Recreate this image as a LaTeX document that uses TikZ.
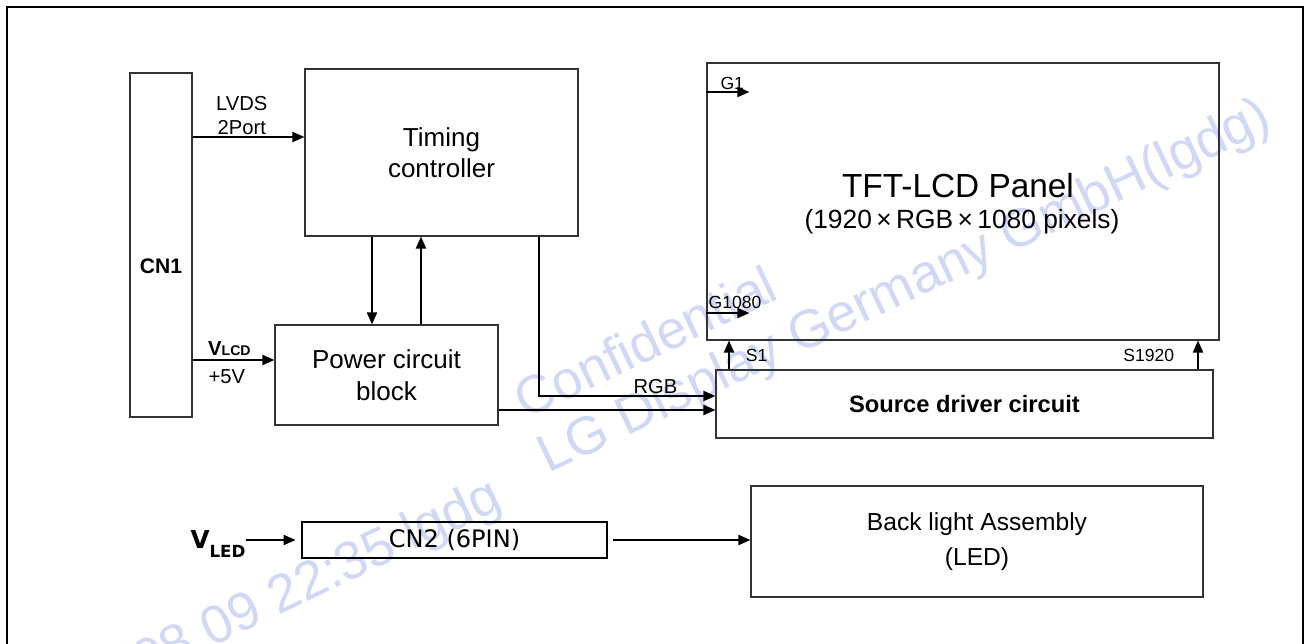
\documentclass[tikz,border=0pt]{standalone}
\usepackage{fontspec}
\setmainfont{Liberation Sans}
\newfontfamily\tahoma{DejaVu Sans}
\usepackage{xcolor}
\usepackage{tikz}
\usetikzlibrary{arrows.meta,calc,positioning}
\definecolor{wmblue}{RGB}{208,216,245}

\begin{document}
\begin{tikzpicture}[x=0.02cm,y=-0.02cm,
  blk/.style 2 args={draw=black!80,line width=0.6pt,minimum width=#1*0.02cm,minimum height=#2*0.02cm,inner sep=0pt,align=center},
  arr/.style={-{Triangle[length=2.4mm,width=2mm]},line width=1.1pt},
  lbl/.style={font=\fontsize{11.5}{13.7}\selectfont,inner sep=1pt,align=center},
  pin/.style={font=\fontsize{10}{12}\selectfont,inner sep=1pt},
  wm/.style={text=wmblue,font=\fontsize{30.5}{31}\selectfont,rotate=25.5,anchor=base west,inner sep=0pt}]
\useasboundingbox (0,0) rectangle (1308,644);
% watermark
\node[wm] (wmconf) at (525,420) {Confidential};
\node[wm] (wmlgd) at (548,474) {LG Display Germany GmbH(lgdg)};
\node[wm] (wmdate) at (90,705) {2008 09 22:35 lgdg};
% frame
\draw[line width=1.6pt] (7,644) -- (7,7) -- (1303,7) -- (1303,644);
% blocks
\node[blk={62}{344}] (cn1) at (161,245) {};
\node[font=\bfseries\fontsize{12}{14}\selectfont] (cn1lbl) at ($(cn1.center)+(0,21)$) {CN1};
\node[blk={273}{167},font=\fontsize{14.8}{17.6}\selectfont] (tcon) at (441.5,152.5) {Timing\\controller};
\node[blk={223}{100},font=\fontsize{14.8}{18}\selectfont] (pwr) at (386.5,375) {Power circuit\\block};
\node[blk={512}{277}] (panel) at (963,201.5) {};
\node[font=\fontsize{19}{22}\selectfont] (ptitle) at (958,186) {TFT-LCD Panel};
\node[font=\fontsize{15}{18}\selectfont] (psub) at (962,222) {(1920\,×\,RGB\,×\,1080 pixels)};
\node[blk={497}{68},font=\bfseries\fontsize{13.5}{16}\selectfont] (src) at (964.5,404) {Source driver circuit};
\node[blk={305}{36},line width=1.3pt,draw=black,font=\tahoma\fontsize{13.7}{16}\selectfont] (cn2) at (454.5,540) {CN2 (6PIN)};
\node[blk={452}{111},font=\fontsize{14}{20}\selectfont] (bl) at (977,541.5) {Back light Assembly\\(LED)};
\node[font=\tahoma\bfseries\fontsize{14}{16}\selectfont,inner sep=0pt] (vled) at (218,544) {V\raisebox{-0.35em}{\fontsize{9.5}{10}\selectfont LED}};
% signal rows
\coordinate (lvds) at (0,137);
\coordinate (vlcd) at (0,360);
\coordinate (dn) at (372,0);
\coordinate (up) at (421,0);
\coordinate (rgbx) at (539,0);
\coordinate (rgby) at (0,396);
\coordinate (pwy) at (0,410);
\coordinate (g1) at (0,92);
\coordinate (g1080) at (0,313);
\coordinate (s1) at (729,0);
\coordinate (s1920) at (1198,0);
% connectors
\draw[arr] (cn1.east |- lvds) -- (tcon.west |- lvds) node[lbl,above,pos=0.44] {LVDS\\2Port};
\draw[arr] (cn1.east |- vlcd) -- (pwr.west |- vlcd)
  node[lbl,above,pos=0.45,inner sep=2pt] {\bfseries V{\fontsize{8}{9}\selectfont LCD}}
  node[lbl,below,pos=0.42,inner sep=5pt] {+5V};
\draw[arr] (tcon.south -| dn) -- (pwr.north -| dn);
\draw[arr] (pwr.north -| up) -- (tcon.south -| up);
\draw[arr] (tcon.south -| rgbx) |- (src.west |- rgby) node[lbl,above,pos=0.83] {RGB};
\draw[arr] (pwr.east |- pwy) -- (src.west |- pwy);
\draw[arr] (panel.west |- g1) -- ++(43,0) node[pin,above,pos=0.6] {G1};
\draw[arr] (panel.west |- g1080) -- ++(43,0);
\node[pin,anchor=south west] (g1080lbl) at ([yshift=1pt]panel.west |- g1080) {G1080};
\draw[arr] (src.north -| s1) -- (panel.south -| s1) node[pin,midway,right=8pt] {S1};
\draw[arr] (src.north -| s1920) -- (panel.south -| s1920) node[pin,midway,left=12pt] {S1920};
\draw[arr,shorten >=3pt] (vled.east |- cn2.west) -- (cn2.west);
\draw[arr,shorten <=3pt] (cn2.east) -- (bl.west |- cn2.east);
\end{tikzpicture}
\end{document}
